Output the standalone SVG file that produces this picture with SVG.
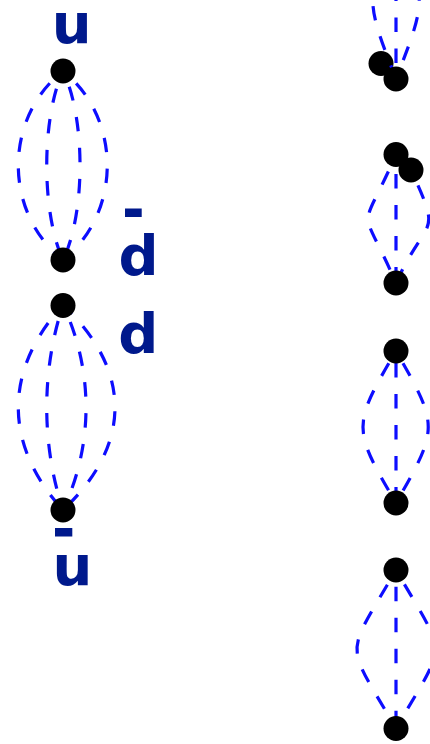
<svg xmlns="http://www.w3.org/2000/svg" width="430" height="744" viewBox="0 0 430 744">
<style>
.lbl{font-family:"DejaVu Sans","Liberation Sans",sans-serif;font-weight:bold;font-size:56px;fill:#00198c;text-anchor:middle}
.bar{fill:#00198c}
.e{fill:none;stroke:#0d0dff;stroke-width:3.2;stroke-dasharray:14.5 16.5}
.v{fill:#000}
</style>
<rect width="430" height="744" fill="#fff"/>
<g id="node-r1a"><circle class="v" cx="381" cy="63.5" r="12.5"/></g>
<g id="connectors">
<path class="e" d="M63,71 C3.4,118 3.4,213 63,260" stroke-dashoffset="13"/>
<path class="e" d="M63,71 C41.3,118 41.3,213 63,260" stroke-dashoffset="12"/>
<path class="e" d="M63,71 C85.7,118 85.7,213 63,260" stroke-dashoffset="14"/>
<path class="e" d="M63,71 C122,118 122,213 63,260" stroke-dashoffset="13"/>
<path class="e" d="M63,305 C3.4,370 3.4,445 63,510" stroke-dashoffset="7.7"/>
<path class="e" d="M63,305 C41.3,370 41.3,445 63,510" stroke-dashoffset="14.3"/>
<path class="e" d="M63,305 C93.7,370 93.7,445 63,510" stroke-dashoffset="12.5"/>
<path class="e" d="M63,305 C132.3,370 132.3,445 63,510" stroke-dashoffset="2"/>
<path class="e" d="M396,79 C365,-1 365,0 396,-80" stroke-dashoffset="0"/>
<path class="e" d="M396,79 L396,-80" stroke-dashoffset="15"/>
<path class="e" d="M396,79 C427,-1 427,0 396,-80" stroke-dashoffset="11"/>
<path class="e" d="M396,154.5 C359,239.5 359,198 396,283" stroke-dashoffset="12.6"/>
<path class="e" d="M396,154.5 L396,283" stroke-dashoffset="11.5"/>
<path class="e" d="M411,170 C443,240 428,213 396,283" stroke-dashoffset="14.3"/>
<path class="e" d="M396,351 C352,426 352,428 396,503" stroke-dashoffset="16.8"/>
<path class="e" d="M396,351 L396,503" stroke-dashoffset="19"/>
<path class="e" d="M396,351 C439,426 439,428 396,503" stroke-dashoffset="17"/>
<path class="e" d="M396,570 C344,660 344,638.5 396,728.5" stroke-dashoffset="14"/>
<path class="e" d="M396,570 L396,728.5" stroke-dashoffset="14.3"/>
<path class="e" d="M396,570 C448,660 448,638.5 396,728.5" stroke-dashoffset="14.4"/>
</g>
<g id="node-u"><circle class="v" cx="63" cy="71" r="12.5"/></g>
<g id="node-dbar"><circle class="v" cx="63" cy="260" r="12.5"/></g>
<g id="node-d"><circle class="v" cx="63" cy="305.5" r="12.5"/></g>
<g id="node-ubar"><circle class="v" cx="63" cy="510" r="12.5"/></g>
<g id="node-r1b"><circle class="v" cx="396" cy="79" r="12.5"/></g>
<g id="node-r2a"><circle class="v" cx="396" cy="154.5" r="12.5"/></g>
<g id="node-r2b"><circle class="v" cx="411" cy="170" r="12.5"/></g>
<g id="node-r2c"><circle class="v" cx="396" cy="283" r="12.5"/></g>
<g id="node-r3a"><circle class="v" cx="396" cy="351" r="12.5"/></g>
<g id="node-r3b"><circle class="v" cx="396" cy="503" r="12.5"/></g>
<g id="node-r4a"><circle class="v" cx="396" cy="570" r="12.5"/></g>
<g id="node-r4b"><circle class="v" cx="396" cy="728.5" r="12.5"/></g>
<g id="labels">
<text class="lbl" x="71.7" y="42.6">u</text>
<rect class="bar" x="125" y="208.5" width="16.7" height="8.5"/>
<text class="lbl" x="138.5" y="274.6">d</text>
<text class="lbl" x="138.3" y="353">d</text>
<rect class="bar" x="55" y="528" width="17.3" height="8.5"/>
<text class="lbl" x="72.5" y="584.6">u</text>
</g>
</svg>
